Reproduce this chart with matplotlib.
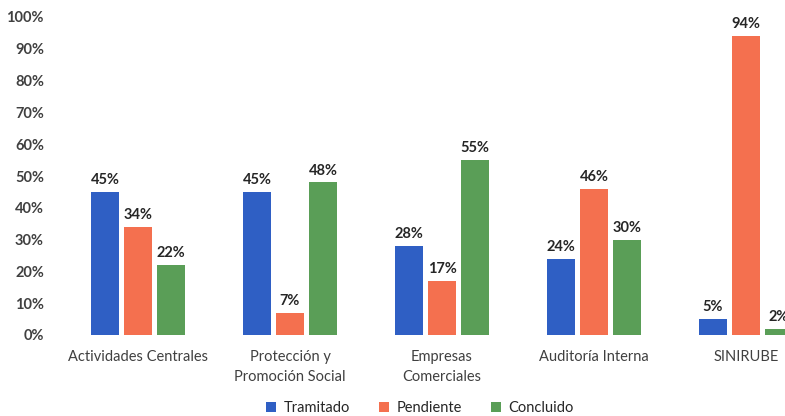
import numpy as np
from matplotlib import pyplot as plt
from matplotlib.ticker import PercentFormatter

# Datos
categorias = ['Actividades Centrales', 'Protección y\nPromoción Social', 'Empresas\nComerciales',
              'Auditoría Interna', 'SINIRUBE']
series = ['Tramitado', 'Pendiente', 'Concluido']
tramitado = [45, 45, 28, 24, 5]
pendiente = [34, 7, 17, 46, 94]
concluido = [22, 48, 55, 30, 2]
colores = ['#2f5fc4', '#f4704f', '#5a9e57']

plt.rcParams['font.family'] = ['Lato', 'DejaVu Sans']

fig = plt.figure(figsize=(7.85, 4.16), dpi=100)
ax = fig.add_axes([55 / 785, 81 / 416, 730 / 785, 318 / 416])

x = np.arange(len(categorias))
ancho = 0.18
paso = 0.217
for k, (nombre, valores, color) in enumerate(zip(series, [tramitado, pendiente, concluido], colores)):
    pos = x + (k - 1) * paso
    ax.bar(pos, valores, ancho, color=color, label=nombre)
    for xi, v in zip(pos, valores):
        ax.text(xi, v + 1.5, f'{v}%', ha='center', va='bottom', fontsize=10.5,
                fontweight='bold', color='#262626')

ax.set_xlim((55 - 138) / 152, (785 - 138) / 152)
ax.set_ylim(0, 100)
ax.set_yticks(range(0, 101, 10))
ax.yaxis.set_major_formatter(PercentFormatter(decimals=0))
ax.set_xticks(x)
ax.set_xticklabels(categorias, fontsize=10.5, color='#404040', linespacing=1.5)
for lbl in ax.get_yticklabels():
    lbl.set_fontsize(10.5)
    lbl.set_color('#404040')
    lbl.set_fontweight('bold')
ax.tick_params(length=0)
ax.tick_params(axis='x', pad=11)
ax.tick_params(axis='y', pad=8)
for s in ax.spines.values():
    s.set_visible(False)

fig.legend(loc='lower center', bbox_to_anchor=(0.535, -0.03), ncol=3, frameon=False,
           fontsize=10.5, handlelength=0.7, handleheight=0.7, columnspacing=2.0,
           handletextpad=0.5, labelcolor='#262626')

fig.savefig('out.png', dpi=100)
